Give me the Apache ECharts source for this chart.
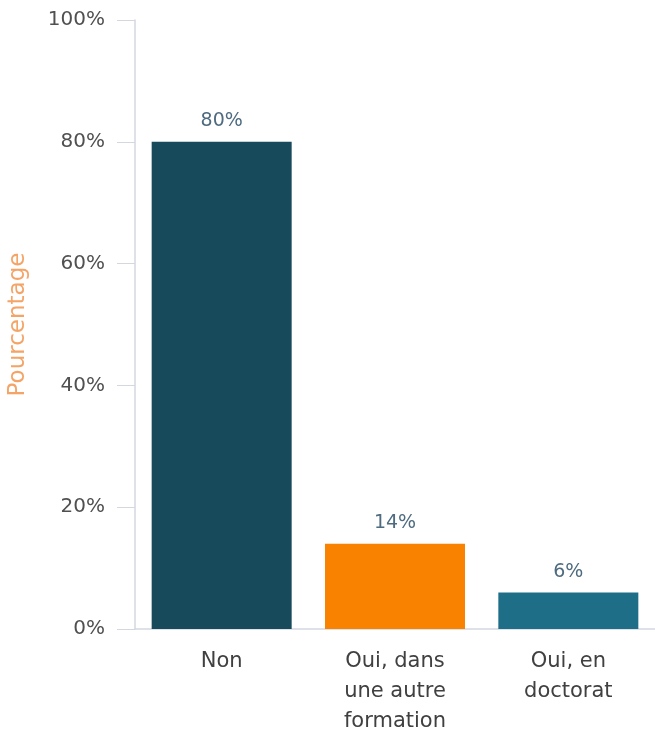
<!DOCTYPE html>
<html>
<head>
<meta charset="utf-8">
<script src="https://cdn.jsdelivr.net/npm/echarts@6/dist/echarts.min.js"></script>
<style>
  html, body { margin: 0; padding: 0; background: #fff; }
  #container { width: 655px; height: 732px; }
</style>
</head>
<body>
<div id="container"></div>
<script>
var myChart = echarts.init(document.getElementById('container'));

var categories = ['Non', 'Oui, dans\nune autre\nformation', 'Oui, en\ndoctorat'];
var values = [80, 14, 6];
var barColors = ['#174b5c', '#f98200', '#1e6e88'];
var yTicks = [0, 20, 40, 60, 80, 100];

var axisColor = '#d3d7e0';
var fontFamily = '"DejaVu Sans", sans-serif';

var option = {
  backgroundColor: '#fff',
  grid: {
    left: 135,
    right: 0,
    top: 20,
    bottom: 103,
    containLabel: false,
    outerBoundsMode: 'none'
  },
  xAxis: {
    type: 'category',
    data: categories,
    axisLine: { lineStyle: { color: axisColor, width: 1.5 } },
    axisTick: { length: 18, lineStyle: { color: axisColor } },
    axisLabel: {
      color: '#404040',
      fontSize: 21,
      lineHeight: 30,
      margin: 18,
      fontFamily: fontFamily
    }
  },
  yAxis: {
    type: 'value',
    min: yTicks[0],
    max: yTicks[yTicks.length - 1],
    interval: 20,
    name: 'Pourcentage',
    nameLocation: 'middle',
    nameGap: 105,
    nameTextStyle: { color: '#f4a467', fontSize: 23, fontFamily: fontFamily },
    axisLine: { show: true, lineStyle: { color: axisColor, width: 1.5 } },
    axisTick: { show: true, length: 18, lineStyle: { color: axisColor } },
    splitLine: { show: false },
    axisLabel: {
      color: '#505050',
      fontSize: 20,
      margin: 30,
      fontFamily: fontFamily,
      formatter: '{value}%'
    }
  },
  series: [
    {
      type: 'bar',
      barWidth: 140,
      data: values.map(function (v, i) {
        return { value: v, itemStyle: { color: barColors[i] } };
      }),
      label: {
        show: true,
        position: 'top',
        distance: 11,
        color: '#4e6b80',
        fontSize: 19,
        fontFamily: fontFamily,
        formatter: '{c}%'
      }
    }
  ]
};

myChart.setOption(option);
</script>
</body>
</html>
